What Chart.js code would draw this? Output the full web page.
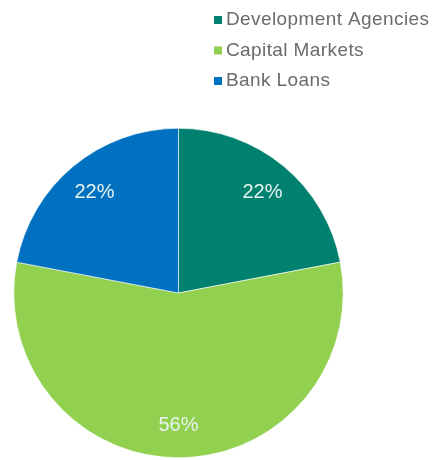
<!DOCTYPE html>
<html>
<head>
<meta charset="utf-8">
<script src="https://cdn.jsdelivr.net/npm/chart.js@4"></script>
<style>
  html, body { margin: 0; padding: 0; background: #ffffff; }
  #wrap { position: relative; width: 434px; height: 460px; }
</style>
</head>
<body>
<div id="wrap"><canvas id="c" width="434" height="460"></canvas></div>
<script>
// Funding sources, share of total (%)
const categories = ['Development Agencies', 'Capital Markets', 'Bank Loans'];
const shares = [22, 56, 22];
const sliceColors = ['#00806e', '#92d050', '#0070c0'];

// Percent labels drawn inside each slice
const sliceLabels = {
  id: 'sliceLabels',
  afterDatasetsDraw(chart) {
    const ctx = chart.ctx;
    const meta = chart.getDatasetMeta(0);
    ctx.save();
    ctx.font = '20px "Liberation Sans", Arial, sans-serif';
    ctx.fillStyle = '#e8f4f0';
    ctx.textAlign = 'center';
    ctx.textBaseline = 'middle';
    meta.data.forEach((arc, i) => {
      const p = arc.getProps(['x', 'y', 'startAngle', 'endAngle', 'outerRadius']);
      const mid = (p.startAngle + p.endAngle) / 2;
      const r = p.outerRadius * 0.8;
      ctx.fillText(shares[i] + '%', p.x + Math.cos(mid) * r, p.y + Math.sin(mid) * r + 1);
    });
    ctx.restore();
  }
};

// Vertical legend in the top-right corner
const cornerLegend = {
  id: 'cornerLegend',
  afterDraw(chart) {
    const ctx = chart.ctx;
    ctx.save();
    ctx.font = '19px "Liberation Sans", Arial, sans-serif';
    ctx.letterSpacing = '0.4px';
    ctx.textBaseline = 'middle';
    categories.forEach((name, i) => {
      const y = 20 + i * 30.5;
      ctx.fillStyle = sliceColors[i];
      ctx.fillRect(214, y - 4, 8, 8);
      ctx.fillStyle = '#6b6b6b';
      ctx.fillText(name, 226, y);
    });
    ctx.restore();
  }
};

new Chart(document.getElementById('c'), {
  type: 'pie',
  data: {
    labels: categories,
    datasets: [{
      data: shares,
      backgroundColor: sliceColors,
      borderColor: '#ffffff',
      borderWidth: 0.6
    }]
  },
  options: {
    responsive: false,
    animation: false,
    layout: { padding: { left: 13, right: 90, top: 128, bottom: 2 } },
    plugins: {
      legend: { display: false },
      tooltip: { enabled: false }
    }
  },
  plugins: [sliceLabels, cornerLegend]
});
</script>
</body>
</html>
